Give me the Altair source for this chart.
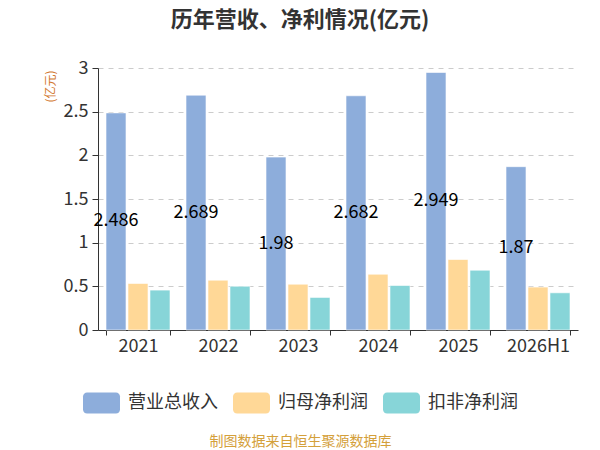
import altair as alt
import pandas as pd

years = ["2021", "2022", "2023", "2024", "2025", "2026H1"]
series = ["营业总收入", "归母净利润", "扣非净利润"]
revenue = [2.486, 2.689, 1.98, 2.682, 2.949, 1.87]
parent_profit = [0.533, 0.571, 0.525, 0.639, 0.807, 0.491]
deducted_profit = [0.457, 0.502, 0.373, 0.510, 0.685, 0.426]
colors = ["#8DADDB", "#FFD897", "#87D5D8"]

rows = []
for i, y in enumerate(years):
    for s, vals in zip(series, [revenue, parent_profit, deducted_profit]):
        rows.append({"year": y, "series": s, "value": vals[i]})
df = pd.DataFrame(rows)

FONT = "Noto Sans CJK SC"
sym = ("M-0.78,-0.568 H0.78 A0.22,0.22 0 0 1 1,-0.348 V0.348 "
       "A0.22,0.22 0 0 1 0.78,0.568 H-0.78 A0.22,0.22 0 0 1 -1,0.348 "
       "V-0.348 A0.22,0.22 0 0 1 -0.78,-0.568 Z")

x_enc = alt.X(
    "year:N", sort=years,
    scale=alt.Scale(paddingInner=0.2, paddingOuter=0.1),
    axis=alt.Axis(
        title="制图数据来自恒生聚源数据库", titleColor="#D4A03A", titleFontSize=14,
        titleFont=FONT, titleFontWeight="normal", titleX=202, titleY=111,
        titleAlign="center", titleBaseline="middle",
        labelAngle=0, labelFontSize=18, labelColor="#333", labelFont=FONT,
        labelPadding=2, tickBand="extent", tickSize=5, tickColor="#333",
        domainColor="#333", grid=False,
    ),
)
xoff = alt.XOffset("series:N", sort=series,
                   scale=alt.Scale(domain=series, paddingInner=0.09, paddingOuter=0))

bars = alt.Chart(df).mark_bar(stroke="white", strokeWidth=1, strokeOpacity=0.6).encode(
    x=x_enc,
    xOffset=xoff,
    y=alt.Y(
        "value:Q",
        scale=alt.Scale(domain=[0, 3], nice=False),
        axis=alt.Axis(
            values=[0, 0.5, 1, 1.5, 2, 2.5, 3], format=".1~f",
            title="(亿元)", titleColor="#D2782F", titleFontSize=12, titleFont=FONT,
            titleFontWeight="normal", titleAngle=270, titleX=-48, titleY=18,
            titleAlign="center", titleBaseline="middle",
            labelFontSize=18, labelColor="#333", labelFont=FONT, labelPadding=4,
            tickSize=6, tickColor="#333", domainColor="#333",
            grid=True, gridColor="#cccccc", gridDash=[5, 5],
        ),
    ),
    color=alt.Color(
        "series:N", sort=series,
        scale=alt.Scale(domain=series, range=colors),
        legend=alt.Legend(
            title=None, orient="none", legendX=-15, legendY=316,
            direction="horizontal", symbolType=sym, symbolSize=1369,
            symbolStrokeWidth=0, symbolOpacity=1,
            labelFontSize=18, labelColor="#333", labelFont=FONT,
            labelOffset=8, columnPadding=15,
        ),
    ),
)

labels = alt.Chart(df).transform_filter(
    alt.datum.series == series[0]
).transform_calculate(
    mid="datum.value / 2"
).mark_text(fontSize=18, color="#000", font=FONT, baseline="middle").encode(
    x=alt.X("year:N", sort=years),
    xOffset=xoff,
    y=alt.Y("mid:Q"),
    text=alt.Text("value:Q"),
)

chart = alt.layer(bars, labels).properties(
    width=480, height=262,
    autosize=alt.AutoSizeParams(type="none"),
    padding={"left": 90, "top": 60, "right": 14, "bottom": 120},
    title=alt.TitleParams(
        "历年营收、净利情况(亿元)", fontSize=22, fontWeight="bold", color="#333",
        font=FONT, anchor="middle", dx=-38, offset=27,
    ),
).configure_view(stroke=None)

chart.save("out.html", embed_options={"renderer": "svg", "actions": False})
